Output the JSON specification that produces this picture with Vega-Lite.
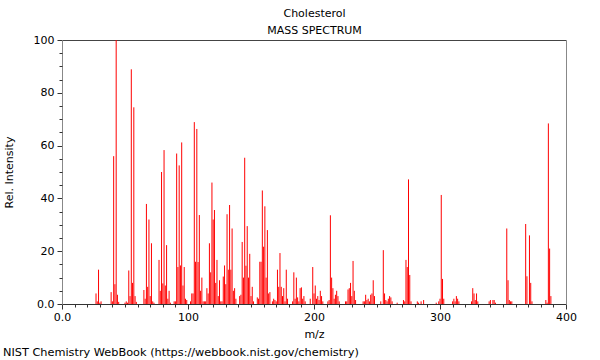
{
  "$schema": "https://vega.github.io/schema/vega-lite/v6.json",
  "width": 504,
  "height": 264,
  "autosize": {"type": "none"},
  "padding": {"left": 62, "top": 40, "right": 34, "bottom": 56},
  "config": {
    "font": "DejaVu Sans",
    "view": {"stroke": null},
    "axis": {"grid": false, "labelFont": "DejaVu Sans", "titleFont": "DejaVu Sans", "labelFontSize": 11, "titleFontSize": 11, "titleFontWeight": "normal", "labelColor": "#000", "titleColor": "#000", "tickColor": "#333"}
  },
  "title": {
    "text": "NIST Chemistry WebBook (https://webbook.nist.gov/chemistry)",
    "orient": "bottom",
    "anchor": "start",
    "frame": "group",
    "dx": -59,
    "offset": 8,
    "fontSize": 11.3,
    "fontWeight": "normal",
    "font": "DejaVu Sans",
    "color": "#000"
  },
  "data": {
    "values": [
      {"mz": 27, "i": 4}, {"mz": 28, "i": 1}, {"mz": 29, "i": 13}, {"mz": 30, "i": 0.5}, {"mz": 31, "i": 1},
      {"mz": 39, "i": 4.5}, {"mz": 40, "i": 1}, {"mz": 41, "i": 56}, {"mz": 42, "i": 7.5}, {"mz": 43, "i": 100}, {"mz": 44, "i": 3.5}, {"mz": 45, "i": 0.8},
      {"mz": 50, "i": 0.5}, {"mz": 51, "i": 1}, {"mz": 52, "i": 0.5}, {"mz": 53, "i": 12.7}, {"mz": 54, "i": 3}, {"mz": 55, "i": 88.9}, {"mz": 56, "i": 8}, {"mz": 57, "i": 74.5}, {"mz": 58, "i": 3}, {"mz": 59, "i": 0.8},
      {"mz": 65, "i": 5.3}, {"mz": 66, "i": 2}, {"mz": 67, "i": 37.9}, {"mz": 68, "i": 6.5}, {"mz": 69, "i": 32}, {"mz": 70, "i": 3}, {"mz": 71, "i": 23}, {"mz": 72, "i": 1}, {"mz": 73, "i": 0.5},
      {"mz": 77, "i": 16.7}, {"mz": 78, "i": 5}, {"mz": 79, "i": 50}, {"mz": 80, "i": 7.8}, {"mz": 81, "i": 58.3}, {"mz": 82, "i": 7}, {"mz": 83, "i": 22.3}, {"mz": 84, "i": 2}, {"mz": 85, "i": 5}, {"mz": 86, "i": 0.5},
      {"mz": 89, "i": 1}, {"mz": 90, "i": 1}, {"mz": 91, "i": 57}, {"mz": 92, "i": 14}, {"mz": 93, "i": 52.5}, {"mz": 94, "i": 14.6}, {"mz": 95, "i": 61.2}, {"mz": 96, "i": 7}, {"mz": 97, "i": 14}, {"mz": 98, "i": 2}, {"mz": 99, "i": 1.5},
      {"mz": 102, "i": 1}, {"mz": 103, "i": 4}, {"mz": 104, "i": 4}, {"mz": 105, "i": 68.9}, {"mz": 106, "i": 16}, {"mz": 107, "i": 66.3}, {"mz": 108, "i": 15.9}, {"mz": 109, "i": 33.7}, {"mz": 110, "i": 5}, {"mz": 111, "i": 10}, {"mz": 112, "i": 1}, {"mz": 113, "i": 1}, {"mz": 114, "i": 1}, {"mz": 115, "i": 6}, {"mz": 116, "i": 4}, {"mz": 117, "i": 23}, {"mz": 118, "i": 12},
      {"mz": 119, "i": 46}, {"mz": 120, "i": 32}, {"mz": 121, "i": 35.6}, {"mz": 122, "i": 8}, {"mz": 123, "i": 16.7}, {"mz": 124, "i": 3}, {"mz": 125, "i": 9}, {"mz": 126, "i": 1}, {"mz": 127, "i": 1},
      {"mz": 128, "i": 10.4}, {"mz": 129, "i": 14.6}, {"mz": 130, "i": 7.5}, {"mz": 131, "i": 34}, {"mz": 132, "i": 13}, {"mz": 133, "i": 37.5}, {"mz": 134, "i": 13}, {"mz": 135, "i": 28.6}, {"mz": 136, "i": 5}, {"mz": 137, "i": 6}, {"mz": 138, "i": 2},
      {"mz": 141, "i": 3}, {"mz": 142, "i": 3.5}, {"mz": 143, "i": 23.5}, {"mz": 144, "i": 10}, {"mz": 145, "i": 55.4}, {"mz": 146, "i": 14.5}, {"mz": 147, "i": 29.5}, {"mz": 148, "i": 10}, {"mz": 149, "i": 19}, {"mz": 150, "i": 3}, {"mz": 151, "i": 6.5}, {"mz": 152, "i": 1},
      {"mz": 155, "i": 2.5}, {"mz": 156, "i": 2}, {"mz": 157, "i": 16}, {"mz": 158, "i": 16}, {"mz": 159, "i": 43}, {"mz": 160, "i": 21.7}, {"mz": 161, "i": 37}, {"mz": 162, "i": 10}, {"mz": 163, "i": 28}, {"mz": 164, "i": 4}, {"mz": 165, "i": 4.5},
      {"mz": 167, "i": 1}, {"mz": 168, "i": 2}, {"mz": 169, "i": 1.5}, {"mz": 170, "i": 1}, {"mz": 171, "i": 13}, {"mz": 172, "i": 6.5}, {"mz": 173, "i": 19.3}, {"mz": 174, "i": 6.5}, {"mz": 175, "i": 3}, {"mz": 176, "i": 6}, {"mz": 177, "i": 1}, {"mz": 178, "i": 13}, {"mz": 179, "i": 2},
      {"mz": 183, "i": 1}, {"mz": 184, "i": 12}, {"mz": 185, "i": 2}, {"mz": 186, "i": 10}, {"mz": 187, "i": 2.5}, {"mz": 188, "i": 1}, {"mz": 189, "i": 6}, {"mz": 190, "i": 6.3}, {"mz": 191, "i": 2}, {"mz": 192, "i": 3}, {"mz": 193, "i": 1},
      {"mz": 197, "i": 2}, {"mz": 199, "i": 14}, {"mz": 200, "i": 4}, {"mz": 201, "i": 7}, {"mz": 202, "i": 2}, {"mz": 203, "i": 3}, {"mz": 204, "i": 1.5}, {"mz": 205, "i": 5}, {"mz": 206, "i": 3}, {"mz": 207, "i": 1},
      {"mz": 211, "i": 1}, {"mz": 212, "i": 1.5}, {"mz": 213, "i": 33.6}, {"mz": 214, "i": 10}, {"mz": 215, "i": 6}, {"mz": 216, "i": 2}, {"mz": 217, "i": 3.5}, {"mz": 218, "i": 5}, {"mz": 219, "i": 3}, {"mz": 220, "i": 1},
      {"mz": 225, "i": 1}, {"mz": 226, "i": 1}, {"mz": 227, "i": 5.5}, {"mz": 228, "i": 6}, {"mz": 229, "i": 8}, {"mz": 230, "i": 3}, {"mz": 231, "i": 16.3}, {"mz": 232, "i": 5}, {"mz": 233, "i": 1.5},
      {"mz": 239, "i": 1}, {"mz": 240, "i": 1}, {"mz": 241, "i": 3.5}, {"mz": 242, "i": 1.5}, {"mz": 243, "i": 2}, {"mz": 244, "i": 1}, {"mz": 245, "i": 3.5}, {"mz": 246, "i": 4}, {"mz": 247, "i": 9}, {"mz": 248, "i": 3},
      {"mz": 253, "i": 1}, {"mz": 255, "i": 20.4}, {"mz": 256, "i": 4}, {"mz": 257, "i": 1.5}, {"mz": 258, "i": 1}, {"mz": 259, "i": 2}, {"mz": 260, "i": 3}, {"mz": 261, "i": 2.5}, {"mz": 262, "i": 1},
      {"mz": 266, "i": 0.5}, {"mz": 271, "i": 1.5}, {"mz": 272, "i": 1}, {"mz": 273, "i": 16.7}, {"mz": 274, "i": 14}, {"mz": 275, "i": 47.2}, {"mz": 276, "i": 11}, {"mz": 277, "i": 1},
      {"mz": 282, "i": 1}, {"mz": 283, "i": 0.5}, {"mz": 285, "i": 1}, {"mz": 287, "i": 1.5},
      {"mz": 297, "i": 0.5}, {"mz": 299, "i": 1}, {"mz": 300, "i": 2}, {"mz": 301, "i": 41.3}, {"mz": 302, "i": 9.5}, {"mz": 303, "i": 2},
      {"mz": 310, "i": 1}, {"mz": 311, "i": 2}, {"mz": 312, "i": 1}, {"mz": 313, "i": 3}, {"mz": 314, "i": 2}, {"mz": 315, "i": 1},
      {"mz": 325, "i": 1}, {"mz": 326, "i": 6}, {"mz": 327, "i": 4}, {"mz": 328, "i": 1.5}, {"mz": 329, "i": 4}, {"mz": 330, "i": 1},
      {"mz": 339, "i": 1}, {"mz": 340, "i": 1.5}, {"mz": 342, "i": 1.5}, {"mz": 343, "i": 1.5}, {"mz": 344, "i": 0.5},
      {"mz": 353, "i": 28.6}, {"mz": 354, "i": 9}, {"mz": 355, "i": 1.5}, {"mz": 356, "i": 1}, {"mz": 357, "i": 1},
      {"mz": 368, "i": 30.3}, {"mz": 369, "i": 10.5}, {"mz": 371, "i": 26}, {"mz": 372, "i": 8}, {"mz": 373, "i": 1},
      {"mz": 384, "i": 1.5}, {"mz": 385, "i": 0.5}, {"mz": 386, "i": 68.4}, {"mz": 387, "i": 21}, {"mz": 388, "i": 3}
    ]
  },
  "layer": [
    {
      "mark": {"type": "rule", "color": "#ff0000", "strokeWidth": 1},
      "encoding": {
        "x": {"field": "mz", "type": "quantitative", "scale": {"domain": [0, 400], "nice": false, "zero": false},
          "axis": {"orient": "bottom", "title": "m/z", "values": [0, 100, 200, 300, 400], "labelExpr": "datum.value == 0 ? '0.0' : datum.label", "tickSize": 5, "labelPadding": 2, "titlePadding": 6, "domainColor": "#333", "labelFlush": false}},
        "y": {"field": "i", "type": "quantitative", "scale": {"domain": [0, 100], "nice": false},
          "axis": {"orient": "left", "title": "Rel. Intensity", "values": [0, 20, 40, 60, 80, 100], "labelExpr": "datum.value == 0 ? '0.0' : datum.label", "tickSize": 5, "labelPadding": 3, "titlePadding": 19, "domainColor": "#888", "labelFlush": false}},
        "y2": {"datum": 0}
      }
    },
    {
      "mark": {"type": "rule", "strokeOpacity": 0},
      "encoding": {
        "x": {"field": "mz", "type": "quantitative",
          "axis": {"orient": "bottom", "title": null, "labels": false, "domain": false, "tickSize": 3, "values": [10, 20, 30, 40, 50, 60, 70, 80, 90, 110, 120, 130, 140, 150, 160, 170, 180, 190, 210, 220, 230, 240, 250, 260, 270, 280, 290, 310, 320, 330, 340, 350, 360, 370, 380, 390]}},
        "y": {"field": "i", "type": "quantitative",
          "axis": {"orient": "left", "title": null, "labels": false, "domain": false, "tickSize": 3, "values": [5, 10, 15, 25, 30, 35, 45, 50, 55, 65, 70, 75, 85, 90, 95]}}
      }
    },
    {
      "mark": {"type": "rule", "strokeOpacity": 0},
      "encoding": {
        "x": {"field": "mz", "type": "quantitative",
          "axis": {"orient": "top", "title": ["Cholesterol", "MASS SPECTRUM"], "titleLineHeight": 17, "titlePadding": 5, "labels": false, "ticks": false, "domainColor": "#444"}},
        "y": {"field": "i", "type": "quantitative",
          "axis": {"orient": "right", "title": null, "labels": false, "ticks": false, "domainColor": "#888"}}
      }
    }
  ],
  "resolve": {"axis": {"x": "independent", "y": "independent"}}
}
